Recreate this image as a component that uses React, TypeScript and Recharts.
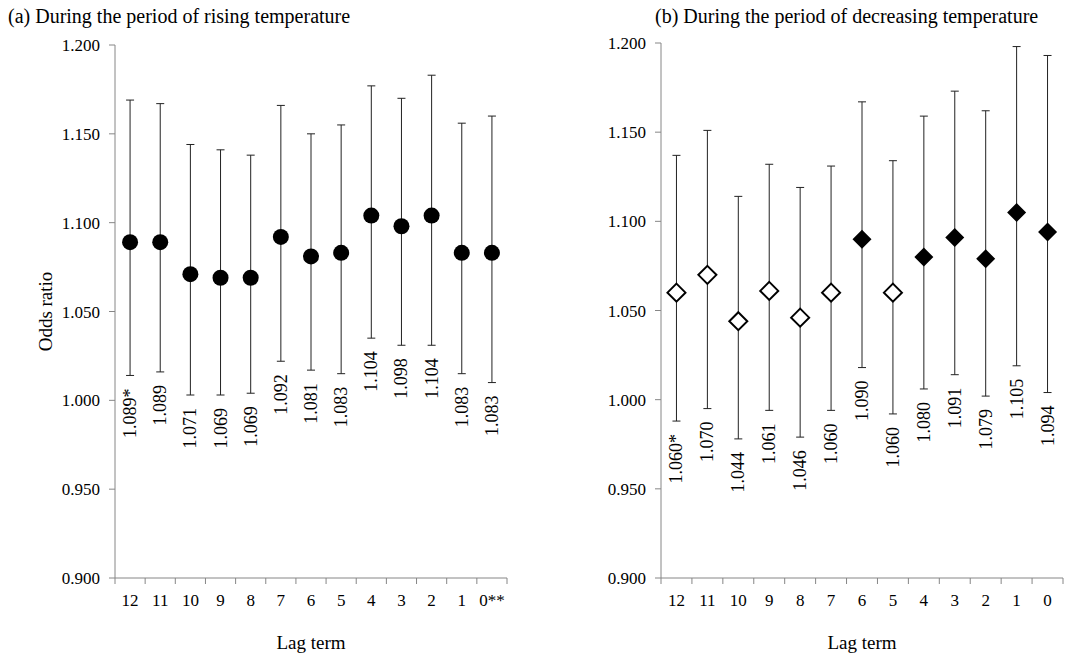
import React from "react";
import { ComposedChart, Line, XAxis, YAxis, ErrorBar } from "recharts";

// lag terms, left to right
const lagTerms = ["12", "11", "10", "9", "8", "7", "6", "5", "4", "3", "2", "1", "0"];
const risingTickLabels = ["12", "11", "10", "9", "8", "7", "6", "5", "4", "3", "2", "1", "0**"];
const fallingTickLabels = ["12", "11", "10", "9", "8", "7", "6", "5", "4", "3", "2", "1", "0"];

// (a) rising temperature: odds ratio with 95% CI
const risingOR = [1.089, 1.089, 1.071, 1.069, 1.069, 1.092, 1.081, 1.083, 1.104, 1.098, 1.104, 1.083, 1.083];
const risingLow = [1.014, 1.016, 1.003, 1.003, 1.004, 1.022, 1.017, 1.015, 1.035, 1.031, 1.031, 1.015, 1.010];
const risingHigh = [1.169, 1.167, 1.144, 1.141, 1.138, 1.166, 1.150, 1.155, 1.177, 1.170, 1.183, 1.156, 1.160];
const risingNotes = ["*", "", "", "", "", "", "", "", "", "", "", "", ""];

// (b) decreasing temperature
const fallingOR = [1.060, 1.070, 1.044, 1.061, 1.046, 1.060, 1.090, 1.060, 1.080, 1.091, 1.079, 1.105, 1.094];
const fallingLow = [0.988, 0.995, 0.978, 0.994, 0.979, 0.994, 1.018, 0.992, 1.006, 1.014, 1.002, 1.019, 1.004];
const fallingHigh = [1.137, 1.151, 1.114, 1.132, 1.119, 1.131, 1.167, 1.134, 1.159, 1.173, 1.162, 1.198, 1.193];
const fallingNotes = ["*", "", "", "", "", "", "", "", "", "", "", "", ""];

const yTicks = [0.9, 0.95, 1.0, 1.05, 1.1, 1.15, 1.2];

const FONT = '"Liberation Serif", "Times New Roman", serif';
const AXIS_GREY = "#868686";
const TICK_SIZE = 6;
const X_TICK_MARGIN = 10;

function buildRows(ticks: string[], or: number[], lo: number[], hi: number[], notes: string[]) {
  return lagTerms.map((lag, i) => ({
    lag: ticks[i],
    or: or[i],
    lo: lo[i],
    hi: hi[i],
    err: [or[i] - lo[i], hi[i] - or[i]],
    note: notes[i],
    sig: lo[i] > 1,
  }));
}

const risingRows = buildRows(risingTickLabels, risingOR, risingLow, risingHigh, risingNotes);
const fallingRows = buildRows(fallingTickLabels, fallingOR, fallingLow, fallingHigh, fallingNotes);

const circleDot = (p: any) => {
  if (p.cx == null || p.cy == null) return <g key={`c-${p.index}`} />;
  return <circle key={`c-${p.index}`} cx={p.cx} cy={p.cy} r={8} fill="#000" />;
};

const diamondDot = (p: any) => {
  const { cx, cy, payload, index } = p;
  if (cx == null || cy == null) return <g key={`d-${index}`} />;
  const filled = payload.sig;
  const s = filled ? 9.5 : 9;
  return (
    <path
      key={`d-${index}`}
      d={`M${cx},${cy - s}L${cx + s},${cy}L${cx},${cy + s}L${cx - s},${cy}Z`}
      fill={filled ? "#000" : "#fff"}
      stroke={filled ? "none" : "#000"}
      strokeWidth={2}
    />
  );
};

// value label hung under the lower whisker, reading bottom to top
const valueLabel = (p: any) => {
  const { cx, cy, payload, index } = p;
  if (cx == null || cy == null) return <g key={`l-${index}`} />;
  const y = cy + 13;
  return (
    <text
      key={`l-${index}`}
      x={cx}
      y={y}
      transform={`rotate(-90 ${cx} ${y})`}
      textAnchor="end"
      dominantBaseline="central"
      fontSize={18}
      fill="#000"
    >
      {payload.or.toFixed(3) + payload.note}
    </text>
  );
};

// category label at the band centre, tick marks on the band edges (Excel style)
const lagTick = (p: any) => {
  const { x, y, payload, index, visibleTicksCount, width } = p;
  const half = payload.offset || width / visibleTicksCount / 2;
  const axisY = y - TICK_SIZE - X_TICK_MARGIN;
  const last = index === visibleTicksCount - 1;
  return (
    <g>
      <line x1={x - half} x2={x - half} y1={axisY} y2={axisY + TICK_SIZE} stroke={AXIS_GREY} />
      {last && <line x1={x + half} x2={x + half} y1={axisY} y2={axisY + TICK_SIZE} stroke={AXIS_GREY} />}
      <text x={x} y={y} dy="0.71em" textAnchor="middle" fontSize={17} fill="#000">
        {payload.value}
      </text>
    </g>
  );
};

function Panel({ rows, dot, width, yAxisWidth, top, right, yLabel }: any) {
  return (
    <ComposedChart width={width} height={661} data={rows} margin={{ top, right, bottom: 0, left: 0 }}>
      <XAxis
        dataKey="lag"
        scale="band"
        height={83}
        interval={0}
        stroke={AXIS_GREY}
        tickLine={false}
        tickSize={TICK_SIZE}
        tickMargin={X_TICK_MARGIN}
        tick={lagTick}
        label={{ value: "Lag term", position: "insideBottom", offset: 12, fill: "#000", fontSize: 19 }}
      />
      <YAxis
        type="number"
        domain={[0.9, 1.2]}
        ticks={yTicks}
        interval={0}
        width={yAxisWidth}
        stroke={AXIS_GREY}
        tickSize={TICK_SIZE}
        tickMargin={9}
        tick={{ fontSize: 17, fill: "#000" }}
        tickFormatter={(v: number) => v.toFixed(3)}
        label={yLabel ? { value: yLabel, angle: -90, position: "center", dx: -12, fill: "#000", fontSize: 19 } : undefined}
      />
      <Line dataKey="lo" stroke="none" dot={valueLabel} activeDot={false} isAnimationActive={false} />
      <Line dataKey="or" stroke="none" dot={dot} activeDot={false} isAnimationActive={false}>
        <ErrorBar dataKey="err" direction="y" width={4} stroke="#222" strokeWidth={1} />
      </Line>
    </ComposedChart>
  );
}

const titleStyle: React.CSSProperties = {
  position: "absolute",
  top: 6,
  fontSize: 20,
  lineHeight: "20px",
  color: "#000",
  whiteSpace: "nowrap",
};

export default function App() {
  return (
    <div
      style={{
        position: "absolute",
        left: 0,
        top: 0,
        width: 1067,
        height: 661,
        background: "#fff",
        fontFamily: FONT,
      }}
    >
      <div style={{ ...titleStyle, left: 8 }}>(a) During the period of rising temperature</div>
      <div style={{ ...titleStyle, left: 655 }}>(b) During the period of decreasing temperature</div>
      <div style={{ position: "absolute", left: 0, top: 0 }}>
        <Panel rows={risingRows} dot={circleDot} width={534} yAxisWidth={115} top={45} right={27} yLabel="Odds ratio" />
      </div>
      <div style={{ position: "absolute", left: 534, top: 0 }}>
        <Panel rows={fallingRows} dot={diamondDot} width={533} yAxisWidth={127} top={43} right={4} />
      </div>
    </div>
  );
}
